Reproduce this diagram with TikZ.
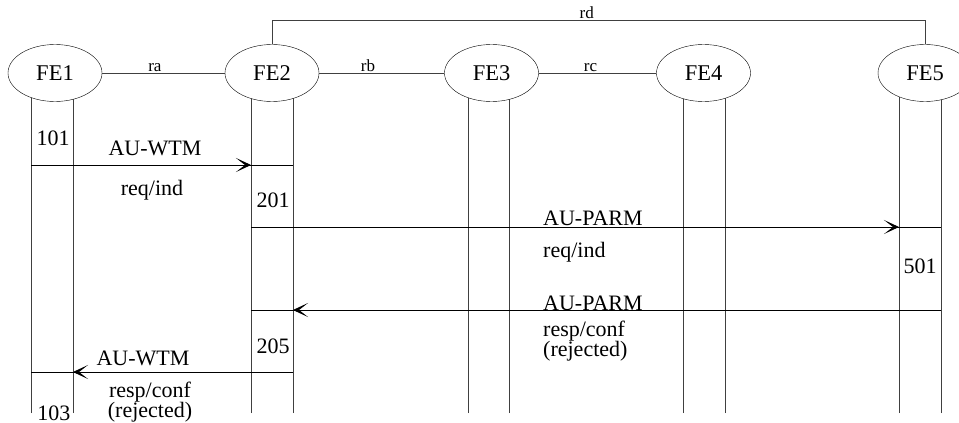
\documentclass[tikz,border=0pt]{standalone}
\usepackage{fontspec}
\setmainfont{Liberation Serif}
\usepackage{tikz}
\usetikzlibrary{arrows.meta,shapes.geometric}

\begin{document}
\begin{tikzpicture}[
  x=1pt, y=-1pt,
  fe/.style={draw, ellipse, fill=white, minimum width=94pt, minimum height=57pt, inner sep=0pt, font=\fontsize{22.5}{24}\selectfont},
  life/.style={draw=black!75, line width=0.9pt},
  link/.style={draw=black!75, line width=0.9pt},
  msg/.style={line width=0.9pt},
  arr/.style={-{Stealth[length=15pt, width=14pt, inset=9pt]}, line width=0.9pt},
  lbl/.style={font=\fontsize{17}{19}\selectfont, inner sep=0.5pt, anchor=south},
  txt/.style={font=\fontsize{22}{24}\selectfont, inner sep=0pt, anchor=base},
  txtl/.style={txt, anchor=base west}
]
\useasboundingbox (0,0) rectangle (959,423);

% lifelines (drawn first, ellipses cover their tops)
\coordinate (top) at (0,80);
\coordinate (rdy) at (0,20);
\coordinate (fe1-l) at (31,413);
\coordinate (fe1-r) at (73,413);
\coordinate (fe2-l) at (251,413);
\coordinate (fe2-r) at (293,413);
\coordinate (fe3-l) at (468,413);
\coordinate (fe3-r) at (509,413);
\coordinate (fe4-l) at (683,413);
\coordinate (fe4-r) at (725,413);
\coordinate (fe5-l) at (899,413);
\coordinate (fe5-r) at (941,413);
\foreach \l in {fe1-l,fe1-r,fe2-l,fe2-r,fe3-l,fe3-r,fe4-l,fe4-r,fe5-l,fe5-r}
  \draw[life] (\l) -- (\l |- top);

\node[fe] (fe1) at (55,73) {FE1};
\node[fe] (fe2) at (272,73) {FE2};
\node[fe] (fe3) at (491.5,73) {FE3};
\node[fe] (fe4) at (703.5,73) {FE4};
\node[fe] (fe5) at (925,73) {FE5};

\draw[link] (fe1) -- node[lbl, pos=0.43] {ra} (fe2);
\draw[link] (fe2) -- node[lbl, pos=0.39] {rb} (fe3);
\draw[link] (fe3) -- node[lbl, pos=0.44] {rc} (fe4);
\draw[link] (fe2.north) -- (fe2.north |- rdy) -- node[lbl, pos=0.482] {rd} (fe5.north |- rdy) -- (fe5.north);

% messages
\coordinate (m1) at (0,165);
\coordinate (m2) at (0,227);
\coordinate (m3) at (0,310);
\coordinate (m4) at (0,372);

\draw[msg] (fe1-l |- m1) -- (fe2-r |- m1);
\draw[arr] (fe1-l |- m1) -- (fe2-l |- m1);
\draw[msg] (fe2-l |- m2) -- (fe5-r |- m2);
\draw[arr] (fe2-l |- m2) -- (fe5-l |- m2);
\draw[msg] (fe5-r |- m3) -- (fe2-l |- m3);
\draw[arr] (fe5-r |- m3) -- (fe2-r |- m3);
\draw[msg] (fe2-r |- m4) -- (fe1-l |- m4);
\draw[arr] (fe2-r |- m4) -- (fe1-r |- m4);

\node[txt] (n101) at (53,145) {101};
\node[txt] (wtm1) at (155,155) {AU-WTM};
\node[txt] (req1) at (152,195) {req/ind};
\node[txt] (n201) at (273,207) {201};
\node[txtl] (parm1) at (543,225) {AU-PARM};
\node[txtl] (req2) at (543,257) {req/ind};
\node[txt] (n501) at (920,273) {501};
\node[txtl] (parm2) at (543,310) {AU-PARM};
\node[txtl] (resp2) at (543,336) {resp/conf};
\node[txtl] (rej2) at (543,356) {(rejected)};
\node[txt] (n205) at (273,353) {205};
\node[txt] (wtm2) at (143,365) {AU-WTM};
\node[txt] (resp1) at (150,397) {resp/conf};
\node[txt] (rej1) at (150,417) {(rejected)};
\node[txt] (n103) at (54,420) {103};

\end{tikzpicture}
\end{document}
